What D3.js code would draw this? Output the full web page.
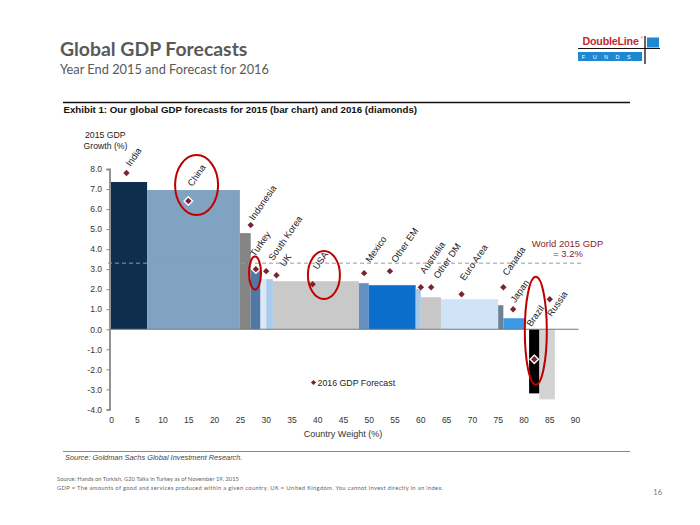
<!DOCTYPE html>
<html>
<head>
<meta charset="utf-8">
<script src="https://cdn.jsdelivr.net/npm/d3@7"></script>
<style>
  html, body { margin: 0; padding: 0; background: #fff; }
  svg { display: block; }
</style>
</head>
<body>
<svg id="chart" width="700" height="525"></svg>
<script>
// ---------- DATA ----------
const countries = ["India","China","Indonesia","Turkey","South Korea","UK","USA","Mexico","Other EM","Australia","Other DM","Euro Area","Canada","Japan","Brazil","Russia"];
const weightFrom = [0, 7.0, 25.0, 27.1, 29.0, 30.1, 31.4, 48.1, 50.0, 59.1, 60.1, 64.0, 75.1, 76.1, 81.1, 83.1];
const weightTo   = [7.0, 25.0, 27.1, 29.0, 30.1, 31.4, 48.1, 50.0, 59.1, 60.1, 64.0, 75.1, 76.1, 80.3, 83.1, 86.1];
const gdp2015    = [7.35, 6.95, 4.8, 3.0, 2.5, 2.5, 2.4, 2.3, 2.2, 2.0, 1.6, 1.5, 1.2, 0.55, -3.2, -3.5];
const gdp2016    = [7.8, 6.4, 5.2, 3.0, 2.9, 2.7, 2.25, 2.8, 2.9, 2.1, 2.1, 1.75, 2.1, 1.0, -1.5, 1.5];
const diamondX   = [3.0, 15.0, 27.1, 28.1, 30.1, 32.1, 39.1, 49.1, 54.1, 60.1, 62.1, 68.0, 76.1, 78.0, 82.1, 85.1];
const highlighted = ["China","Turkey","Brazil"];
const worldGdpLine = 3.3;
const worldGdpText = ["World 2015 GDP", "= 3.2%"];
const yTicks = [-4,-3,-2,-1,0,1,2,3,4,5,6,7,8];
const xTicks = [0,5,10,15,20,25,30,35,40,45,50,55,60,65,70,75,80,85,90];

// ---------- STYLE / LAYOUT ----------
const barColors = {
  "India":"#0f2d4d","China":"#7fa3c1","Indonesia":"#858585","Turkey":"#4e78a6",
  "South Korea":"#dce9f5","UK":"#a9cbec","USA":"#c9c9c9","Mexico":"#6690c2",
  "Other EM":"#0b6dcc","Australia":"#a8c8e8","Other DM":"#c8c8c8","Euro Area":"#cfe4f6",
  "Canada":"#6e8294","Japan":"#3b9ae6","Brazil":"#000000","Russia":"#d3d3d3"
};
// label start offsets (px) relative to diamond
const labelOffsets = {
  "India":[4,-6],"China":[4,-14],"Indonesia":[3,-4],"Turkey":[-1,-12],"South Korea":[7,-10],
  "UK":[8,-8],"USA":[5,-14],"Mexico":[6,-10],"Other EM":[6,-8],"Australia":[4,-13],
  "Other DM":[7,-8],"Euro Area":[3,-13],"Canada":[4,-11],"Japan":[2,-6],"Brazil":[-3,-32],"Russia":[2,18]
};
const ellipses = [ // [x value, y value, rx px, ry px]
  [16.6, 7.2, 21.5, 30],
  [27.93, 2.81, 6, 16.5],
  [41.3, 2.71, 16, 24],
  [82.4, -0.08, 11, 54]
];

const svg = d3.select("#chart");
const AR = "'Liberation Sans', Arial, sans-serif";
const CAL = "Lato, 'Open Sans', sans-serif";

const x = d3.scaleLinear().domain([0, 90]).range([111, 575]);
const y = d3.scaleLinear().domain([-4, 8]).range([409.4, 169]);

// ---------- HEADER ----------
svg.append("text").attr("x", 60).attr("y", 55.5)
  .attr("font-family", CAL).attr("font-weight", "bold").attr("font-size", 19.4)
  .attr("fill", "#595959").text("Global GDP Forecasts");
svg.append("text").attr("x", 60).attr("y", 74)
  .attr("font-family", CAL).attr("font-size", 12.8)
  .attr("fill", "#595959").text("Year End 2015 and Forecast for 2016");

// Logo
const logo = svg.append("g");
logo.append("text").attr("x", 582.5).attr("y", 44.5)
  .attr("font-family", AR).attr("font-weight", "bold").attr("font-size", 10.7)
  .attr("fill", "#c0272d").attr("letter-spacing", -0.2).text("DoubleLine");
logo.append("text").attr("x", 640.5).attr("y", 39)
  .attr("font-family", AR).attr("font-size", 3.5).attr("fill", "#c0272d").text("®");
logo.append("line").attr("x1", 578).attr("x2", 660).attr("y1", 48.5).attr("y2", 48.5)
  .attr("stroke", "#111").attr("stroke-width", 1);
logo.append("rect").attr("x", 578).attr("y", 52).attr("width", 64).attr("height", 9).attr("fill", "#1e88d2");
logo.append("text").attr("x", 610).attr("y", 59).attr("text-anchor", "middle")
  .attr("font-family", AR).attr("font-size", 5.5).attr("fill", "#fff")
  .attr("letter-spacing", 7.5).text("FUNDS");
logo.append("rect").attr("x", 647).attr("y", 37.5).attr("width", 12).attr("height", 10).attr("fill", "#1e88d2");
logo.append("line").attr("x1", 645).attr("x2", 645).attr("y1", 36).attr("y2", 64)
  .attr("stroke", "#111").attr("stroke-width", 1.3);

// Exhibit header
svg.append("line").attr("x1", 63).attr("x2", 630).attr("y1", 102.5).attr("y2", 102.5)
  .attr("stroke", "#111").attr("stroke-width", 1.3);
svg.append("text").attr("x", 63.5).attr("y", 112.5)
  .attr("font-family", AR).attr("font-weight", "bold").attr("font-size", 9.7)
  .attr("fill", "#111").text("Exhibit 1: Our global GDP forecasts for 2015 (bar chart) and 2016 (diamonds)");

// Y axis title
svg.append("text").attr("x", 85).attr("y", 138)
  .attr("font-family", AR).attr("font-size", 8.7).attr("fill", "#222").text("2015 GDP");
svg.append("text").attr("x", 83.5).attr("y", 148.5)
  .attr("font-family", AR).attr("font-size", 8.7).attr("fill", "#222").text("Growth (%)");

// ---------- BARS ----------
const bars = countries.map((c, i) => ({c, from: weightFrom[i], to: weightTo[i], v: gdp2015[i]}));
svg.append("g").selectAll("rect").data(bars).join("rect")
  .attr("x", d => x(d.from))
  .attr("width", d => x(d.to) - x(d.from))
  .attr("y", d => y(Math.max(0, d.v)))
  .attr("height", d => Math.abs(y(d.v) - y(0)))
  .attr("fill", d => barColors[d.c]);

// dashed world line
svg.append("line").attr("x1", 108).attr("x2", 582)
  .attr("y1", y(worldGdpLine)).attr("y2", y(worldGdpLine))
  .attr("stroke", "#9a9a9a").attr("stroke-width", 1).attr("stroke-dasharray", "4,3");
svg.append("text").attr("x", 567.5).attr("y", 247).attr("text-anchor", "middle")
  .attr("font-family", AR).attr("font-size", 9.5).attr("fill", "#8b1e24").text(worldGdpText[0]);
svg.append("text").attr("x", 568).attr("y", 256.5).attr("text-anchor", "middle")
  .attr("font-family", AR).attr("font-size", 9.5).attr("fill", "#8b1e24").text(worldGdpText[1]);

// zero line
svg.append("line").attr("x1", 109.5).attr("x2", 578.5).attr("y1", y(0)).attr("y2", y(0))
  .attr("stroke", "#777").attr("stroke-width", 1.2);

// ---------- AXES ----------
const yAxis = svg.append("g").attr("transform", "translate(109.5,0)")
  .call(d3.axisLeft(y).tickValues(yTicks).tickFormat(d3.format(".1f")).tickSize(3).tickPadding(4.5));
yAxis.select(".domain").attr("stroke", "#888").attr("stroke-width", 1.8);
yAxis.selectAll(".tick line").attr("stroke", "#888");
yAxis.selectAll("text").attr("font-family", AR).attr("font-size", 8.5).attr("fill", "#333")
  .text(d => d < 0 ? "-" + Math.abs(d).toFixed(1) : d.toFixed(1));

const xAxis = svg.append("g").attr("transform", "translate(0,409.4)")
  .call(d3.axisBottom(x).tickValues(xTicks).tickSize(0).tickPadding(8));
xAxis.select(".domain").remove();
xAxis.selectAll("text").attr("font-family", AR).attr("font-size", 8.5).attr("fill", "#333");

svg.append("text").attr("x", x(45)).attr("y", 437).attr("text-anchor", "middle")
  .attr("font-family", AR).attr("font-size", 9).attr("fill", "#333").text("Country Weight (%)");

// ---------- DIAMONDS ----------
const pts = countries.map((c, i) => ({c, xv: diamondX[i], v: gdp2016[i]}));
const diamond = s => `M0,${-s}L${s},0L0,${s}L${-s},0Z`;
const dg = svg.append("g");
dg.selectAll("path").data(pts).join("path")
  .attr("transform", d => `translate(${x(d.xv)},${y(d.v)})`)
  .attr("d", d => highlighted.includes(d.c) ? diamond(4.2) : diamond(3.2))
  .attr("fill", "#7a2430")
  .attr("stroke", d => highlighted.includes(d.c) ? "#fff" : "none")
  .attr("stroke-width", 1.4);

// labels
svg.append("g").selectAll("text").data(pts).join("text")
  .attr("transform", d => {
    const o = labelOffsets[d.c];
    return `translate(${x(d.xv) + o[0]},${y(d.v) + o[1]}) rotate(-55)`;
  })
  .attr("font-family", AR).attr("font-size", 9.3).attr("fill", "#222")
  .text(d => d.c);

// ellipses
svg.append("g").selectAll("ellipse").data(ellipses).join("ellipse")
  .attr("cx", d => x(d[0])).attr("cy", d => y(d[1]))
  .attr("rx", d => d[2]).attr("ry", d => d[3])
  .attr("fill", "none").attr("stroke", "#c00000").attr("stroke-width", 2);

// legend
svg.append("path").attr("transform", "translate(313.5,382.5)").attr("d", diamond(2.6)).attr("fill", "#7a2430");
svg.append("text").attr("x", 317.5).attr("y", 385.8)
  .attr("font-family", AR).attr("font-size", 8.8).attr("fill", "#222").text("2016 GDP Forecast");

// ---------- FOOTER ----------
svg.append("line").attr("x1", 63).attr("x2", 630).attr("y1", 451.5).attr("y2", 451.5)
  .attr("stroke", "#888").attr("stroke-width", 1);
svg.append("text").attr("x", 65).attr("y", 460)
  .attr("font-family", AR).attr("font-style", "italic").attr("font-size", 7.4)
  .attr("fill", "#444").text("Source: Goldman Sachs Global Investment Research.");
svg.append("text").attr("x", 57).attr("y", 481)
  .attr("font-family", CAL).attr("font-size", 5.8).attr("fill", "#666")
  .text("Source: Hands on Turkish, G20 Talks in Turkey as of November 19, 2015");
svg.append("text").attr("x", 57).attr("y", 490)
  .attr("font-family", CAL).attr("font-size", 5.8).attr("fill", "#666")
  .attr("textLength", 386).attr("lengthAdjust", "spacing")
  .text("GDP = The amounts of good and services produced within a given country. UK = United Kingdom. You cannot invest directly in an index.");
svg.append("text").attr("x", 662).attr("y", 494.5).attr("text-anchor", "end")
  .attr("font-family", CAL).attr("font-size", 7.5).attr("fill", "#777").text("16");
</script>
</body>
</html>
